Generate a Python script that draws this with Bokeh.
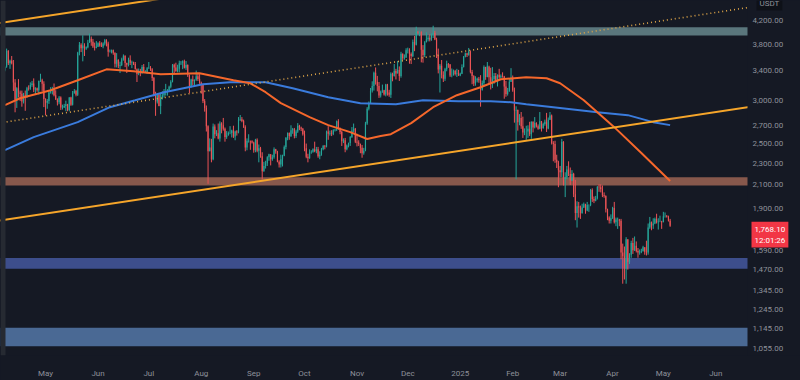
import numpy as np
import pandas as pd
from bokeh.plotting import figure
from bokeh.models import (Range1d, FixedTicker, BoxAnnotation, Label, ColumnDataSource)
from bokeh.embed import file_html
from bokeh.resources import INLINE

# ---------------- data (ETH/USDT, daily) ----------------
start_date = "2024-04-07"
first_open = 3405

closes = [
    # Apr 2024 (7-30)
    3455, 3695, 3505, 3545, 3505, 3235, 3010, 3155, 3100, 3085, 2985, 3065, 3055, 3155, 3148, 3200, 3220, 3140, 3155, 3130, 3255, 3265, 3215, 3015,
    # May
    2970, 2990, 3100, 3120, 3140, 3065, 3010, 2975, 3035, 2910, 2910, 2930, 2950, 2880, 3035, 2945, 3090, 3120, 3070, 3665, 3790, 3735, 3780, 3730, 3750, 3825, 3890, 3840, 3765, 3745, 3760,
    # Jun
    3815, 3780, 3765, 3810, 3865, 3810, 3680, 3680, 3705, 3665, 3500, 3560, 3470, 3480, 3565, 3620, 3510, 3485, 3560, 3515, 3520, 3495, 3420, 3350, 3390, 3370, 3450, 3375, 3380, 3435,
    # Jul
    3440, 3420, 3295, 3060, 2985, 3070, 2930, 3020, 3065, 3100, 3100, 3130, 3175, 3245, 3485, 3445, 3390, 3425, 3505, 3515, 3535, 3440, 3480, 3335, 3175, 3275, 3250, 3270, 3320, 3280, 3230,
    # Aug
    3200, 2990, 2905, 2690, 2420, 2460, 2340, 2685, 2600, 2610, 2555, 2720, 2700, 2660, 2570, 2590, 2615, 2615, 2640, 2575, 2630, 2620, 2765, 2770, 2750, 2680, 2460, 2530, 2530, 2525, 2510,
    # Sep
    2430, 2540, 2425, 2450, 2370, 2225, 2275, 2300, 2360, 2390, 2340, 2360, 2440, 2420, 2315, 2290, 2340, 2375, 2465, 2560, 2615, 2580, 2645, 2655, 2580, 2630, 2695, 2675, 2660, 2600,
    # Oct
    2450, 2365, 2350, 2415, 2415, 2440, 2420, 2440, 2370, 2385, 2440, 2475, 2470, 2630, 2605, 2610, 2605, 2645, 2650, 2745, 2665, 2625, 2525, 2535, 2440, 2480, 2505, 2570, 2640, 2660, 2520,
    # Nov
    2510, 2495, 2455, 2400, 2425, 2720, 2895, 2960, 3125, 3185, 3370, 3245, 3185, 3060, 3110, 3130, 3075, 3205, 3100, 3070, 3355, 3325, 3395, 3360, 3410, 3325, 3650, 3580, 3590, 3705,
    # Dec
    3710, 3645, 3615, 3835, 3790, 4000, 3995, 4005, 3710, 3630, 3830, 3880, 3905, 3870, 3960, 3985, 3875, 3625, 3415, 3470, 3340, 3285, 3420, 3495, 3490, 3330, 3335, 3395, 3350, 3360, 3330,
    # Jan 2025
    3355, 3450, 3605, 3655, 3635, 3685, 3380, 3325, 3220, 3265, 3285, 3265, 3135, 3225, 3450, 3310, 3470, 3305, 3215, 3280, 3325, 3240, 3340, 3305, 3320, 3315, 3180, 3080, 3115, 3245, 3300,
    # Feb
    3130, 2875, 2880, 2735, 2785, 2690, 2620, 2630, 2630, 2660, 2600, 2740, 2675, 2725, 2690, 2660, 2745, 2670, 2715, 2740, 2665, 2765, 2815, 2505, 2495, 2335, 2310, 2235,
    # Mar
    2215, 2520, 2150, 2170, 2240, 2200, 2140, 2200, 2020, 1865, 1920, 1910, 1865, 1910, 1935, 1885, 1930, 1930, 2055, 1980, 1965, 1985, 2085, 2080, 2065, 2010, 2005, 1895, 1830, 1805, 1825,
    # Apr
    1905, 1795, 1815, 1815, 1805, 1580, 1555, 1475, 1670, 1520, 1565, 1645, 1595, 1625, 1590, 1580, 1585, 1590, 1615, 1585, 1580, 1755, 1795, 1770, 1785, 1820, 1795, 1800, 1800, 1795,
    # May (1-5)
    1840, 1840, 1835, 1805, 1768.1,
]

highs = [
    3460, 3730, 3705, 3560, 3615, 3555, 3280, 3170, 3280, 3125, 3125, 3095, 3125, 3175, 3195, 3235, 3255, 3290, 3170, 3165, 3260, 3355, 3285, 3250,
    3025, 3015, 3120, 3170, 3175, 3220, 3130, 3025, 3055, 3050, 2945, 2955, 2995, 2955, 3040, 3045, 3120, 3145, 3135, 3680, 3835, 3815, 3945, 3815, 3765, 3870, 3975, 3925, 3885, 3825, 3850,
    3830, 3850, 3830, 3830, 3885, 3880, 3840, 3715, 3715, 3715, 3670, 3660, 3565, 3530, 3590, 3640, 3625, 3515, 3590, 3625, 3545, 3530, 3525, 3430, 3430, 3425, 3480, 3495, 3405, 3450,
    3525, 3465, 3435, 3310, 3110, 3080, 3085, 3090, 3115, 3145, 3215, 3145, 3190, 3265, 3495, 3500, 3515, 3485, 3545, 3540, 3550, 3560, 3540, 3490, 3345, 3285, 3330, 3275, 3400, 3370, 3350,
    3245, 3215, 3015, 2935, 2700, 2555, 2550, 2720, 2710, 2645, 2720, 2745, 2735, 2785, 2675, 2635, 2630, 2690, 2650, 2695, 2640, 2645, 2795, 2820, 2795, 2765, 2700, 2555, 2600, 2530, 2535,
    2520, 2550, 2555, 2490, 2465, 2410, 2315, 2325, 2370, 2395, 2390, 2385, 2460, 2445, 2425, 2330, 2385, 2385, 2480, 2570, 2620, 2620, 2700, 2670, 2670, 2650, 2725, 2705, 2685, 2670,
    2640, 2500, 2395, 2440, 2430, 2450, 2520, 2465, 2465, 2420, 2455, 2485, 2485, 2640, 2690, 2640, 2645, 2655, 2660, 2755, 2770, 2675, 2640, 2555, 2560, 2490, 2510, 2580, 2680, 2720, 2670,
    2605, 2535, 2500, 2485, 2455, 2740, 2915, 2985, 3160, 3250, 3385, 3445, 3325, 3240, 3125, 3205, 3135, 3215, 3215, 3135, 3375, 3370, 3495, 3425, 3540, 3460, 3680, 3655, 3640, 3735,
    3745, 3735, 3670, 3875, 3935, 4090, 4015, 4010, 4010, 3785, 3850, 3995, 3940, 3960, 3975, 4107, 4020, 3905, 3730, 3495, 3555, 3390, 3440, 3545, 3510, 3495, 3430, 3415, 3410, 3425, 3410,
    3370, 3490, 3615, 3670, 3665, 3740, 3700, 3410, 3335, 3320, 3300, 3310, 3335, 3260, 3475, 3455, 3525, 3450, 3440, 3450, 3365, 3365, 3345, 3425, 3345, 3375, 3325, 3255, 3160, 3280, 3435,
    3330, 3165, 2925, 2885, 2830, 2855, 2800, 2665, 2695, 2700, 2740, 2745, 2745, 2795, 2735, 2710, 2855, 2750, 2730, 2765, 2845, 2790, 2855, 2825, 2525, 2530, 2385, 2325,
    2275, 2550, 2525, 2215, 2275, 2320, 2260, 2235, 2210, 2145, 1960, 1955, 1925, 1940, 1950, 1940, 1955, 1935, 2065, 2070, 2000, 2005, 2090, 2105, 2105, 2095, 2035, 2010, 1900, 1840, 1855,
    1915, 1955, 1830, 1830, 1820, 1820, 1640, 1620, 1685, 1670, 1575, 1660, 1680, 1690, 1655, 1610, 1600, 1605, 1625, 1615, 1660, 1785, 1835, 1800, 1825, 1830, 1860, 1825, 1845, 1805,
    1875, 1870, 1850, 1845, 1820,
]

lows = [
    3390, 3440, 3480, 3425, 3490, 3120, 2852, 2905, 3035, 2990, 2920, 2960, 2870, 3030, 3125, 3135, 3175, 3105, 3070, 3110, 3075, 3240, 3120, 2915,
    2815, 2895, 2955, 3085, 3075, 3050, 3005, 2935, 2950, 2880, 2885, 2905, 2865, 2865, 2865, 2930, 2935, 3085, 3050, 3055, 3625, 3675, 3535, 3615, 3710, 3735, 3825, 3775, 3740, 3700, 3735,
    3755, 3760, 3755, 3735, 3780, 3765, 3605, 3670, 3655, 3635, 3445, 3445, 3435, 3365, 3465, 3545, 3450, 3365, 3460, 3480, 3435, 3480, 3415, 3240, 3335, 3320, 3355, 3365, 3370, 3355,
    3425, 3395, 3255, 3050, 2810, 2960, 2925, 2830, 3010, 3035, 3060, 3060, 3120, 3155, 3235, 3360, 3385, 3375, 3375, 3480, 3420, 3430, 3410, 3310, 3090, 3165, 3195, 3200, 3255, 3255, 3215,
    3085, 2965, 2860, 2630, 2110, 2420, 2310, 2330, 2555, 2580, 2545, 2520, 2610, 2640, 2520, 2550, 2585, 2600, 2565, 2560, 2535, 2585, 2610, 2750, 2735, 2670, 2420, 2430, 2510, 2435, 2500,
    2405, 2410, 2410, 2310, 2355, 2150, 2220, 2250, 2275, 2325, 2280, 2325, 2345, 2395, 2310, 2260, 2260, 2270, 2370, 2440, 2535, 2540, 2570, 2605, 2555, 2560, 2615, 2645, 2635, 2585,
    2420, 2350, 2310, 2345, 2395, 2405, 2410, 2400, 2355, 2340, 2375, 2430, 2440, 2460, 2540, 2585, 2580, 2590, 2630, 2635, 2650, 2600, 2475, 2505, 2410, 2430, 2460, 2475, 2560, 2620, 2505,
    2470, 2475, 2400, 2355, 2385, 2420, 2705, 2875, 2960, 3100, 3125, 3205, 3115, 3030, 3035, 3095, 3060, 3050, 3060, 3045, 3030, 3250, 3315, 3275, 3360, 3255, 3300, 3555, 3560, 3590,
    3655, 3500, 3495, 3600, 3690, 3780, 3970, 3930, 3520, 3515, 3600, 3830, 3845, 3845, 3855, 3900, 3865, 3585, 3360, 3100, 3290, 3240, 3255, 3390, 3440, 3310, 3305, 3330, 3330, 3310, 3325,
    3320, 3350, 3445, 3595, 3600, 3620, 3360, 3210, 3185, 3190, 3235, 3230, 2920, 3125, 3185, 3270, 3305, 3210, 3140, 3160, 3215, 3240, 3180, 3285, 3290, 3300, 3020, 3045, 3060, 3110, 3240,
    3110, 2730, 2150, 2640, 2700, 2660, 2560, 2590, 2540, 2560, 2580, 2550, 2620, 2665, 2675, 2650, 2655, 2630, 2660, 2695, 2625, 2655, 2760, 2490, 2320, 2305, 2255, 2080,
    2170, 2170, 2095, 1995, 2150, 2180, 2100, 2135, 1995, 1810, 1755, 1830, 1820, 1860, 1905, 1860, 1880, 1875, 1920, 1955, 1945, 1960, 1975, 2040, 2035, 1995, 1990, 1870, 1810, 1785, 1785,
    1820, 1785, 1765, 1745, 1765, 1535, 1385, 1410, 1385, 1470, 1505, 1545, 1570, 1590, 1580, 1545, 1565, 1575, 1585, 1565, 1560, 1565, 1745, 1735, 1745, 1780, 1785, 1740, 1795, 1745,
    1795, 1830, 1830, 1800, 1760,
]

# moving averages
ma_fast_dates = ["2024-04-07", "2024-04-16", "2024-05-04", "2024-05-20", "2024-06-06", "2024-06-22",
                 "2024-07-08", "2024-07-31", "2024-08-20", "2024-08-30", "2024-09-08", "2024-09-17",
                 "2024-10-04", "2024-10-15", "2024-10-28", "2024-11-07", "2024-11-15", "2024-11-21",
                 "2024-12-03", "2024-12-16", "2024-12-30", "2025-01-13", "2025-01-25", "2025-02-09",
                 "2025-02-21", "2025-03-01", "2025-03-15", "2025-04-02", "2025-04-18", "2025-05-05"]
ma_fast_values = [2939, 3026, 3130, 3264, 3418, 3390, 3348, 3362, 3264, 3223, 3104, 2964,
                  2794, 2702, 2623, 2548, 2580, 2601, 2725, 2914, 3065, 3170, 3278, 3305,
                  3292, 3223, 3001, 2679, 2402, 2135]

ma_slow_dates = ["2024-04-07", "2024-04-24", "2024-05-20", "2024-06-08", "2024-06-23", "2024-07-10",
                 "2024-08-02", "2024-08-18", "2024-09-08", "2024-09-24", "2024-10-15", "2024-11-03",
                 "2024-11-24", "2024-12-10", "2024-12-31", "2025-01-19", "2025-01-31", "2025-02-09",
                 "2025-02-25", "2025-03-23", "2025-04-10", "2025-04-25", "2025-05-05"]
ma_slow_values = [2432, 2569, 2736, 2914, 3001, 3104, 3210, 3237, 3237, 3156, 3039, 2964,
                  2951, 3001, 2989, 2989, 2976, 2951, 2914, 2853, 2818, 2736, 2702]

# channel trend lines (anchor points)
channel_dates = ["2024-04-01", "2025-06-30"]
channel_upper = [4139, 6770]
channel_lower = [1801, 2946]
channel_mid = [2718, 4484]

# horizontal zones
zone_bottoms = [3943, 2094, 1475, 1064]
zone_tops = [4083, 2168, 1543, 1150]

price_ticks = [1055, 1145, 1245, 1345, 1470, 1590, 1900, 2100, 2300, 2500, 2700, 3000, 3400, 3800, 4200]
month_ticks = ["2024-05-01", "2024-06-01", "2024-07-01", "2024-08-01", "2024-09-01", "2024-10-01",
               "2024-11-01", "2024-12-01", "2025-01-01", "2025-02-01", "2025-03-01", "2025-04-01",
               "2025-05-01", "2025-06-01"]
month_labels = ["May", "Jun", "Jul", "Aug", "Sep", "Oct", "Nov", "Dec", "2025", "Feb", "Mar", "Apr", "May", "Jun"]
last_price = closes[-1]
countdown_text = "12:01:26"
unit_text = "USDT"

# ---------------- styling ----------------
BG = "#151924"
UP = "#26a69a"
DOWN = "#ec5356"
ZONE_COLORS = ["#5a767c", "#87584c", "#3d4e8c", "#4a6994"]
TXT = "#8e919a"
FONT = "Roboto"
PRICE_SCALE_X = 747   # left edge of the price scale strip (screen px)

assert len(closes) == len(highs) == len(lows), (len(closes), len(highs), len(lows))

dates = pd.date_range(start_date, periods=len(closes), freq="D")
opens = [first_open] + closes[:-1]
df = pd.DataFrame(dict(date=dates, open=opens, close=closes, high=highs, low=lows))
df["top"] = df[["open", "close"]].max(axis=1)
df["bottom"] = df[["open", "close"]].min(axis=1)
df["color"] = np.where(df["close"] >= df["open"], UP, DOWN)
src = ColumnDataSource(df)

FRAME_H = 356
p = figure(width=800, height=380, x_axis_type="datetime", y_axis_type="log",
           y_axis_location=None,
           x_range=Range1d(pd.Timestamp("2024-04-04 09:07"), pd.Timestamp("2025-07-21 00:30")),
           y_range=Range1d(1023.5, 4568),
           output_backend="svg", toolbar_location=None,
           min_border_left=0, min_border_top=0, min_border_right=0, min_border_bottom=380 - FRAME_H,
           background_fill_color=BG, border_fill_color=BG, outline_line_color=None)
p.xgrid.visible = False
p.ygrid.visible = False

for b, t, c in zip(zone_bottoms, zone_tops, ZONE_COLORS):
    p.add_layout(BoxAnnotation(bottom=b, top=t, fill_color=c, fill_alpha=1.0,
                               line_color=None, level="underlay"))

# candles
p.segment(x0="date", y0="low", x1="date", y1="high", line_color="color", line_width=1, source=src)
p.vbar(x="date", width=0.68 * 86400000, top="top", bottom="bottom",
       fill_color="color", line_color=None, source=src)

# moving averages
p.line(pd.to_datetime(ma_slow_dates), ma_slow_values, line_color="#3a7bdc", line_width=2)
p.line(pd.to_datetime(ma_fast_dates), ma_fast_values, line_color="#f5672b", line_width=2)

# channel
cd = pd.to_datetime(channel_dates)
p.line(cd, channel_upper, line_color="#f5a52a", line_width=2)
p.line(cd, channel_lower, line_color="#f5a52a", line_width=2)
p.line(cd, channel_mid, line_color="#e0a648", line_width=1.6, line_dash="1 3")

# left edge strip
p.add_layout(BoxAnnotation(right=5, right_units="screen",
                           fill_color="#262a32", fill_alpha=1.0, line_color=None))
# price-scale strip on the right (covers the chart there)
p.add_layout(BoxAnnotation(left=PRICE_SCALE_X, left_units="screen",
                           fill_color=BG, fill_alpha=1.0, line_color=None))

# price scale labels
for t in price_ticks:
    p.add_layout(Label(x=PRICE_SCALE_X + 5, x_units="screen", y=t, y_units="data",
                       text=f"{t:,.2f}", text_color=TXT, text_font=FONT, text_font_size="8px",
                       text_align="left", text_baseline="middle"))

# last price tag
p.add_layout(Label(x=PRICE_SCALE_X + 4, x_units="screen", y=last_price, y_units="data", y_offset=4,
                   text=f"{last_price:,.2f}\n{countdown_text}",
                   text_color="#ffffff", text_font=FONT, text_font_size="8px",
                   text_align="left", text_baseline="top", text_line_height=1.2,
                   background_fill_color="#f23645", background_fill_alpha=1.0, padding=3))
# unit tag
p.add_layout(Label(x=PRICE_SCALE_X + 9, x_units="screen", y=FRAME_H + 4, y_units="screen",
                   text=unit_text, text_color=TXT, text_font=FONT, text_font_size="8px",
                   text_align="left", text_baseline="top",
                   background_fill_color="#0e1118", background_fill_alpha=1.0, padding=3))

# time axis
xa = p.xaxis[0]
tick_ms = [int(pd.Timestamp(d).value // 10**6) for d in month_ticks]
xa.ticker = FixedTicker(ticks=tick_ms, minor_ticks=[])
xa.major_label_overrides = {t: l for t, l in zip(tick_ms, month_labels)}
xa.axis_line_color = None
xa.major_tick_line_color = None
xa.minor_tick_line_color = None
xa.major_tick_out = 0
xa.major_tick_in = 0
xa.major_label_text_font = FONT
xa.major_label_text_font_size = "8px"
xa.major_label_text_color = TXT
xa.major_label_standoff = 13

html = file_html(p, INLINE)
html = html.replace("<head>", "<head>\n<style>html,body{margin:0;padding:0;background:#151924;overflow:hidden}</style>", 1)
open("out.html", "w").write(html)
